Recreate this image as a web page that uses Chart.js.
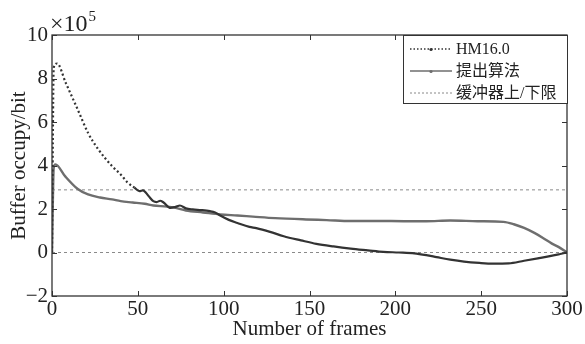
<!DOCTYPE html>
<html>
<head>
<meta charset="utf-8">
<script src="https://cdn.jsdelivr.net/npm/chart.js@4"></script>
<style>
  body { margin: 0; background: #fff; }
  canvas { display: block; }
</style>
</head>
<body>
<canvas id="bufChart" width="585" height="344"></canvas>
<script>
// data (values in units of 1e5 bit)
const hmFrames = [0, 1, 3, 8, 15, 21, 27, 35, 40, 44, 48, 51, 53, 56, 59, 61, 63, 65, 69, 72, 74.5, 78, 82, 87, 92, 95, 98, 103, 108, 115, 119, 127, 135, 145, 154, 164, 174, 184, 193, 202, 211, 218, 224, 232, 240, 249, 257, 266, 275, 283, 290, 296, 300];
const hmValues = [0, 8.5, 8.69, 7.8, 6.57, 5.5, 4.74, 3.97, 3.59, 3.22, 2.98, 2.82, 2.86, 2.62, 2.36, 2.32, 2.38, 2.3, 2.05, 2.1, 2.16, 2.03, 1.98, 1.95, 1.9, 1.84, 1.7, 1.5, 1.36, 1.18, 1.12, 0.95, 0.75, 0.56, 0.4, 0.28, 0.18, 0.1, 0.03, 0.0, -0.04, -0.12, -0.21, -0.33, -0.42, -0.48, -0.51, -0.5, -0.38, -0.27, -0.17, -0.07, 0];

const propFrames = [0, 1, 2, 7.6, 15, 21, 28, 35, 40, 47, 54, 59, 67, 72, 78, 88, 98, 108, 117, 130, 148, 160, 174, 190, 205, 218, 232, 248, 263, 269, 275, 281, 286, 291, 295, 300];
const propValues = [0, 3.9, 4.05, 3.51, 2.92, 2.67, 2.53, 2.44, 2.36, 2.3, 2.24, 2.16, 2.11, 2.05, 1.93, 1.84, 1.75, 1.7, 1.65, 1.58, 1.52, 1.49, 1.45, 1.45, 1.44, 1.44, 1.47, 1.44, 1.41, 1.3, 1.13, 0.9, 0.67, 0.42, 0.26, 0];

const limitFrames = [0, 300];
const upperLimit = [2.88, 2.88];
const lowerLimit = [0, 0];

const xTicks = [0, 50, 100, 150, 200, 250, 300];
const yTicks = [-2, 0, 2, 4, 6, 8, 10];

const legendLabels = ["HM16.0", "提出算法", "缓冲器上/下限"];

const serif = "'Liberation Serif', 'Times New Roman', 'Noto Sans CJK SC', serif";
const toPoints = (xs, ys) => xs.map((x, i) => ({ x: x, y: ys[i] }));

// frame box, inward ticks, legend and the x10^5 mark
const decorations = {
  id: "decorations",
  afterDraw(chart) {
    const ctx = chart.ctx;
    const a = chart.chartArea;
    const xs = chart.scales.x, ys = chart.scales.y;
    ctx.save();
    ctx.strokeStyle = "#333";
    ctx.lineWidth = 1.3;
    ctx.setLineDash([]);
    ctx.strokeRect(a.left, a.top, a.right - a.left, a.bottom - a.top);

    ctx.lineWidth = 1;
    xTicks.forEach(v => {
      const px = Math.round(xs.getPixelForValue(v)) + 0.5;
      ctx.beginPath();
      ctx.moveTo(px, a.bottom); ctx.lineTo(px, a.bottom - 5);
      ctx.moveTo(px, a.top); ctx.lineTo(px, a.top + 5);
      ctx.stroke();
    });
    yTicks.forEach(v => {
      const py = Math.round(ys.getPixelForValue(v)) + 0.5;
      ctx.beginPath();
      ctx.moveTo(a.left, py); ctx.lineTo(a.left + 5, py);
      ctx.moveTo(a.right, py); ctx.lineTo(a.right - 5, py);
      ctx.stroke();
    });

    // legend
    const bx = 403, by = a.top, bw = a.right - bx, bh = 68;
    ctx.fillStyle = "#fff";
    ctx.fillRect(bx, by, bw, bh);
    ctx.strokeStyle = "#333";
    ctx.strokeRect(bx + 0.5, by + 0.5, bw, bh);

    const rows = [by + 14, by + 36, by + 58];
    const styles = [
      { color: "#333", dash: [1.5, 2], width: 1.5, marker: true },
      { color: "#6e6e6e", dash: [], width: 1.5, marker: true },
      { color: "#888", dash: [2, 2], width: 1, marker: false }
    ];
    ctx.font = "16px " + serif;
    ctx.textBaseline = "middle";
    ctx.textAlign = "left";
    legendLabels.forEach((label, i) => {
      const s = styles[i];
      ctx.strokeStyle = s.color;
      ctx.lineWidth = s.width;
      ctx.setLineDash(s.dash);
      ctx.beginPath();
      ctx.moveTo(410, rows[i]); ctx.lineTo(452, rows[i]);
      ctx.stroke();
      ctx.setLineDash([]);
      if (s.marker) {
        ctx.fillStyle = s.color;
        ctx.beginPath();
        ctx.arc(431, rows[i] + 0.5, 1.6, 0, Math.PI * 2);
        ctx.fill();
      }
      ctx.fillStyle = "#222";
      ctx.fillText(label, 456, rows[i] + 1);
    });

    // exponent
    ctx.fillStyle = "#222";
    ctx.textBaseline = "alphabetic";
    ctx.font = "24px " + serif;
    ctx.fillText("×10", 50, 31);
    const w = ctx.measureText("×10").width;
    ctx.font = "15px " + serif;
    ctx.fillText("5", 50 + w + 1, 21);
    ctx.restore();
  }
};

new Chart(document.getElementById("bufChart"), {
  type: "line",
  data: {
    datasets: [
      {
        label: legendLabels[0],
        data: toPoints(hmFrames, hmValues),
        borderColor: "#333",
        borderWidth: 2.2,
        pointRadius: 0,
        cubicInterpolationMode: "monotone",
        segment: { borderDash: c => c.p0.parsed.x < 46 ? [2, 2.5] : [] }
      },
      {
        label: legendLabels[1],
        data: toPoints(propFrames, propValues),
        borderColor: "#6e6e6e",
        borderWidth: 2.4,
        pointRadius: 0,
        cubicInterpolationMode: "monotone"
      },
      {
        label: legendLabels[2],
        data: toPoints(limitFrames, upperLimit),
        borderColor: "#8a8a8a",
        borderWidth: 1,
        borderDash: [3, 3],
        pointRadius: 0
      },
      {
        label: legendLabels[2],
        data: toPoints(limitFrames, lowerLimit),
        borderColor: "#8a8a8a",
        borderWidth: 1,
        borderDash: [3, 3],
        pointRadius: 0
      }
    ]
  },
  options: {
    responsive: false,
    animation: false,
    layout: { padding: { left: 0, right: 18, top: 35, bottom: 0 } },
    plugins: { legend: { display: false }, tooltip: { enabled: false } },
    scales: {
      x: {
        type: "linear",
        min: 0,
        max: 300,
        afterFit: s => { s.height = 48; },
        afterBuildTicks: s => { s.ticks = xTicks.map(v => ({ value: v })); },
        grid: { display: false, drawTicks: false },
        border: { display: false },
        ticks: { color: "#222", font: { family: serif, size: 21 }, padding: 1, maxRotation: 0 },
        title: { display: true, text: "Number of frames", color: "#222", font: { family: serif, size: 21 }, padding: { top: 0, bottom: 2 } }
      },
      y: {
        min: -2,
        max: 10,
        afterFit: s => { s.width = 52; },
        afterBuildTicks: s => { s.ticks = yTicks.map(v => ({ value: v })); },
        grid: { display: false, drawTicks: false },
        border: { display: false },
        ticks: {
          color: "#222",
          font: { family: serif, size: 21 },
          padding: 4,
          callback: v => v < 0 ? "\u2212" + Math.abs(v) : String(v)
        },
        title: { display: true, text: "Buffer occupy/bit", color: "#222", font: { family: serif, size: 21 }, padding: { top: 7, bottom: 0 } }
      }
    }
  },
  plugins: [decorations]
});
</script>
</body>
</html>
